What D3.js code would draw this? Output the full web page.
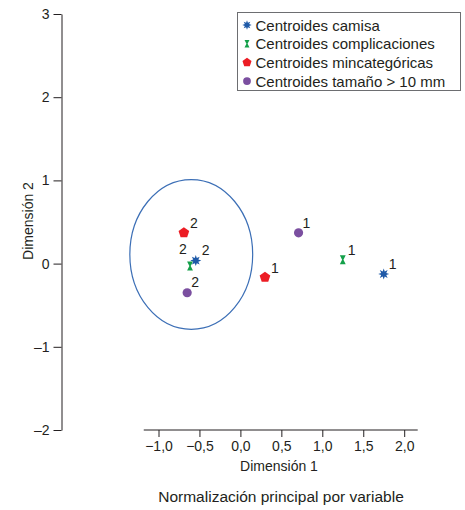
<!DOCTYPE html>
<html>
<head>
<meta charset="utf-8">
<script src="https://cdn.jsdelivr.net/npm/d3@7"></script>
<style>
	body { margin: 0; background: #fff; }
	svg text { font-family: "Liberation Sans", Arial, sans-serif; fill: #231f20; }
</style>
</head>
<body>
<div id="chart"></div>
<script>
(function(){
	'use strict';

	// DATA
	var seriesNames = ['Centroides camisa', 'Centroides complicaciones', 'Centroides mincategóricas', 'Centroides tamaño > 10 mm'];
	var seriesKeys = ['camisa', 'complicaciones', 'mincategoricas', 'tamano'];
	var dim1Values = {
		camisa: [1.75, -0.545],
		complicaciones: [1.25, -0.615],
		mincategoricas: [0.30, -0.69],
		tamano: [0.71, -0.65]
	};
	var dim2Values = {
		camisa: [-0.125, 0.036],
		complicaciones: [0.045, -0.03],
		mincategoricas: [-0.165, 0.37],
		tamano: [0.37, -0.35]
	};
	var pointLabels = ['1', '2'];
	var xTicks = [-1, -0.5, 0, 0.5, 1, 1.5, 2];
	var yTicks = [-2, -1, 0, 1, 2, 3];
	var ellipseCenter = [-0.60, 0.11];
	var ellipseRadii = [0.75, 0.90];

	var width = 465, height = 510;
	var colors = { camisa: '#1f5aa8', complicaciones: '#14a04a', mincategoricas: '#ec1c24', tamano: '#7b4fa0' };

	var svg = d3.select('#chart').append('svg')
		.attr('width', width)
		.attr('height', height);

	var xScale = d3.scaleLinear().domain([-1, 2]).range([158.5, 404.2]);
	var yScale = d3.scaleLinear().domain([-2, 3]).range([430, 14]);

	// AXES
	var fmtX = function(d){ return d3.format('.1f')(d).replace('.', ',').replace('-', '\u2013'); };
	var fmtY = function(d){ return String(d).replace('-', '\u2013'); };

	var xAxis = d3.axisBottom(xScale).tickValues(xTicks).tickFormat(fmtX).tickSize(7).tickSizeOuter(0).tickPadding(4);
	var gx = svg.append('g').attr('transform', 'translate(0,430)').call(xAxis);
	gx.select('.domain').attr('d', 'M' + xScale(-1.18) + ',0H' + xScale(2.165));

	var yAxis = d3.axisLeft(yScale).tickValues(yTicks).tickFormat(fmtY).tickSize(8).tickSizeOuter(0).tickPadding(4);
	var gy = svg.append('g').attr('transform', 'translate(61.5,0)').call(yAxis);

	[gx, gy].forEach(function(g){
		g.selectAll('.domain, .tick line').attr('stroke', '#231f20').attr('stroke-width', 1);
		g.selectAll('.tick text').style('font-size', '14px').attr('fill', '#231f20');
	});

	svg.append('text')
		.attr('x', 279).attr('y', 471)
		.attr('text-anchor', 'middle')
		.style('font-size', '14px')
		.text('Dimensión 1');
	svg.append('text')
		.attr('x', 281).attr('y', 502)
		.attr('text-anchor', 'middle')
		.style('font-size', '15.5px')
		.text('Normalización principal por variable');
	svg.append('text')
		.attr('transform', 'translate(33,221) rotate(-90)')
		.attr('text-anchor', 'middle')
		.style('font-size', '14px')
		.text('Dimensión 2');

	// ELLIPSE
	svg.append('ellipse')
		.attr('cx', xScale(ellipseCenter[0]))
		.attr('cy', yScale(ellipseCenter[1]))
		.attr('rx', xScale(ellipseRadii[0]) - xScale(0))
		.attr('ry', yScale(0) - yScale(ellipseRadii[1]))
		.attr('fill', 'none')
		.attr('stroke', '#3c6fb6')
		.attr('stroke-width', 1.2);

	// MARKERS
	function starPath(r){
		var pts = [];
		for (var i = 0; i < 16; i++) {
			var a = i * Math.PI / 8;
			var rr = i % 2 === 0 ? r : r * 0.5;
			pts.push([Math.sin(a) * rr, -Math.cos(a) * rr]);
		}
		return 'M' + pts.join('L') + 'Z';
	}
	function hourglassPath(r){
		return 'M' + (-r * 0.65) + ',' + (-r) + 'H' + (r * 0.65) + 'L' + (r * 0.15) + ',0L' + (r * 0.65) + ',' + r +
			'H' + (-r * 0.65) + 'L' + (-r * 0.15) + ',0Z';
	}
	function pentagonPath(r){
		var pts = [];
		for (var i = 0; i < 5; i++) {
			var a = i * 2 * Math.PI / 5;
			pts.push([Math.sin(a) * r, -Math.cos(a) * r]);
		}
		return 'M' + pts.join('L') + 'Z';
	}
	function markerPath(key, s){
		if (key === 'camisa') return starPath(5.5 * s);
		if (key === 'complicaciones') return hourglassPath(4.5 * s);
		if (key === 'mincategoricas') return pentagonPath(5.6 * s);
		return d3.symbol().type(d3.symbolCircle).size(66 * s * s)();
	}

	// label offsets per point index [dx, dy]
	var labelOffsets = {
		camisa: [[5, -5], [6, -6]],
		complicaciones: [[5, -5], [-11, -12]],
		mincategoricas: [[6, -4], [6, -5]],
		tamano: [[4, -5], [4, -6]]
	};

	seriesKeys.forEach(function(key){
		var pts = dim1Values[key].map(function(x, i){ return { x: x, y: dim2Values[key][i], label: pointLabels[i], off: labelOffsets[key][i] }; });
		var g = svg.append('g');
		g.selectAll('path').data(pts).enter().append('path')
			.attr('d', markerPath(key, 1))
			.attr('transform', function(d){ return 'translate(' + xScale(d.x) + ',' + yScale(d.y) + ')'; })
			.attr('fill', colors[key]);
		g.selectAll('text').data(pts).enter().append('text')
			.attr('x', function(d){ return xScale(d.x) + d.off[0]; })
			.attr('y', function(d){ return yScale(d.y) + d.off[1]; })
			.style('font-size', '14px')
			.text(function(d){ return d.label; });
	});

	// LEGEND
	var legend = svg.append('g');
	legend.append('rect')
		.attr('x', 237.5).attr('y', 12.5)
		.attr('width', 223).attr('height', 78)
		.attr('fill', '#fff')
		.attr('stroke', '#6d6e71')
		.attr('stroke-width', 1);
	seriesKeys.forEach(function(key, i){
		var cy = 25 + i * 18.7;
		legend.append('path')
			.attr('d', markerPath(key, 0.85))
			.attr('transform', 'translate(247,' + cy + ')')
			.attr('fill', colors[key]);
		legend.append('text')
			.attr('x', 255.5).attr('y', cy + 5.5)
			.style('font-size', '15px')
			.text(seriesNames[i]);
	});
})();
</script>
</body>
</html>
